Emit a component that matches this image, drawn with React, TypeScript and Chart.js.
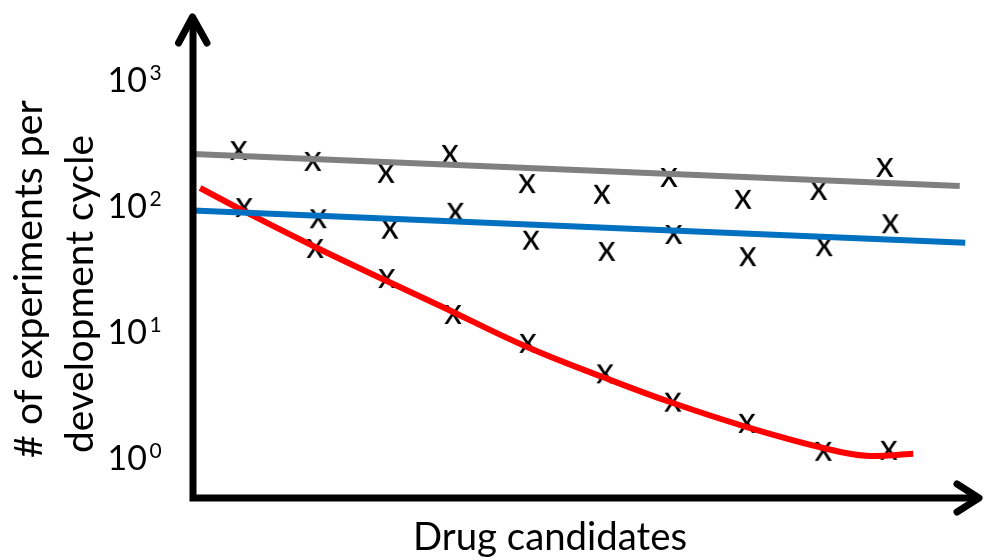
import React, { useEffect, useRef } from 'react';
import { Chart, registerables } from 'chart.js';

Chart.register(...registerables);

// Observed experiments per cycle (scatter "x" marks)
const grayX = [0.58, 1.52, 2.45, 3.26, 4.24, 5.19, 6.04, 6.98, 7.94, 8.78];
const grayY = [278, 228, 183, 259, 152, 125, 170, 114, 134, 204];
const blueX = [0.65, 1.59, 2.5, 3.33, 4.29, 5.25, 6.1, 7.04, 8.01, 8.85];
const blueY = [98, 80, 66, 90, 54, 44, 60, 40, 48, 73];
const redX = [0.65, 1.55, 2.46, 3.3, 4.25, 5.23, 6.09, 7.03, 8.0, 8.83];
const redY = [98, 46.4, 26.8, 13.9, 8.2, 4.7, 2.8, 1.9, 1.14, 1.16];

// Trend lines
const grayFitX = [0, 9.73];
const grayFitY = [259, 144];
const blueFitX = [0, 9.8];
const blueFitY = [92, 51];
const redCurveX = [0.09, 0.66, 1.55, 2.46, 3.14, 4.24, 5.2, 6.09, 7.03, 8.0, 8.55, 9.14];
const redCurveY = [139, 90.1, 47.3, 25.4, 16.1, 7.6, 4.39, 2.73, 1.76, 1.2, 1.04, 1.08];

// Axis ticks and titles
const tickValues = [1, 10, 100, 1000];
const tickExponents = ['0', '1', '2', '3'];
const xTitle = 'Drug candidates';
const yTitleLines = ['# of experiments per', 'development cycle'];

const FONT = 'Lato, "Open Sans", sans-serif';

const pts = (xs: number[], ys: number[]) => xs.map((x, i) => ({ x, y: ys[i] }));

function makeXMarker(): HTMLCanvasElement {
  const c = document.createElement('canvas');
  c.width = 30;
  c.height = 30;
  const g = c.getContext('2d')!;
  g.font = `36px ${FONT}`;
  g.fillStyle = '#000';
  const m = g.measureText('x');
  const w = m.actualBoundingBoxLeft + m.actualBoundingBoxRight;
  const h = m.actualBoundingBoxAscent + m.actualBoundingBoxDescent;
  g.fillText('x', 15 - w / 2 + m.actualBoundingBoxLeft, 15 - h / 2 + m.actualBoundingBoxAscent);
  return c;
}

function fitFont(ctx: CanvasRenderingContext2D, text: string, target: number) {
  ctx.font = `100px ${FONT}`;
  const w = ctx.measureText(text).width;
  const size = (100 * target) / w;
  ctx.font = `${size}px ${FONT}`;
}

const decorPlugin = {
  id: 'decor',
  afterDraw(chart: any) {
    const ctx: CanvasRenderingContext2D = chart.ctx;
    const { left, right, top, bottom } = chart.chartArea;
    const yScale = chart.scales.y;
    ctx.save();
    ctx.fillStyle = '#000';
    ctx.strokeStyle = '#000';

    // Axes
    ctx.lineWidth = 7;
    ctx.lineCap = 'butt';
    ctx.lineJoin = 'miter';
    ctx.beginPath();
    ctx.moveTo(left, top + 2);
    ctx.lineTo(left, bottom);
    ctx.lineTo(right - 3, bottom);
    ctx.stroke();

    ctx.lineCap = 'round';
    ctx.lineJoin = 'round';
    ctx.beginPath();
    ctx.moveTo(left - 14.5, top + 26);
    ctx.lineTo(left - 0.5, top);
    ctx.lineTo(left + 14, top + 26);
    ctx.stroke();
    ctx.beginPath();
    ctx.moveTo(right - 24, bottom - 14);
    ctx.lineTo(right - 2, bottom);
    ctx.lineTo(right - 24, bottom + 14);
    ctx.stroke();

    // Tick labels 10^k
    tickValues.forEach((v, i) => {
      const py = yScale.getPixelForValue(v);
      ctx.font = `34px ${FONT}`;
      ctx.textAlign = 'right';
      ctx.textBaseline = 'alphabetic';
      ctx.fillText('10', 147, py + 12.5);
      ctx.font = `21px ${FONT}`;
      ctx.textAlign = 'left';
      ctx.fillText(tickExponents[i], 149.5, py + 0.5);
    });

    // X title
    fitFont(ctx, xTitle, 274);
    ctx.textAlign = 'center';
    ctx.textBaseline = 'alphabetic';
    ctx.fillText(xTitle, (left + right) / 2 - 37, 550);

    // Y title (rotated)
    const yLines = [
      { text: yTitleLines[0], x: 42, y: 279, w: 358 },
      { text: yTitleLines[1], x: 93, y: 294, w: 318 },
    ];
    yLines.forEach((l) => {
      ctx.save();
      ctx.translate(l.x, l.y);
      ctx.rotate(-Math.PI / 2);
      fitFont(ctx, l.text, l.w);
      ctx.textAlign = 'center';
      ctx.textBaseline = 'alphabetic';
      ctx.fillText(l.text, 0, 0);
      ctx.restore();
    });

    ctx.restore();
  },
};

export default function App() {
  const ref = useRef<HTMLCanvasElement | null>(null);

  useEffect(() => {
    document.body.style.margin = '0';
    const canvas = ref.current;
    if (!canvas) return;
    const marker = makeXMarker();

    const scatter = (xs: number[], ys: number[]) => ({
      type: 'line' as const,
      data: pts(xs, ys),
      showLine: false,
      pointStyle: marker,
      pointRadius: 9,
      pointHoverRadius: 9,
      borderColor: '#000',
      backgroundColor: '#000',
      clip: false,
    });

    const chart = new Chart(canvas, {
      type: 'line',
      data: {
        datasets: [
          {
            data: pts(grayFitX, grayFitY),
            borderColor: '#808080',
            borderWidth: 6,
            pointRadius: 0,
            tension: 0,
          },
          {
            data: pts(blueFitX, blueFitY),
            borderColor: '#0070C0',
            borderWidth: 6,
            pointRadius: 0,
            tension: 0,
          },
          {
            data: pts(redCurveX, redCurveY),
            borderColor: '#FF0000',
            borderWidth: 6,
            pointRadius: 0,
            tension: 0.4,
          },
          scatter(grayX, grayY),
          scatter(blueX, blueY),
          scatter(redX.slice(1), redY.slice(1)),
        ] as any,
      },
      options: {
        responsive: false,
        animation: false,
        devicePixelRatio: 1,
        layout: { autoPadding: false, padding: { left: 193, top: 17, right: 3, bottom: 61 } },
        plugins: { legend: { display: false }, tooltip: { enabled: false } },
        events: [],
        scales: {
          x: { type: 'linear', min: 0, max: 10, display: false },
          y: { type: 'logarithmic', min: 0.4814, max: 3162.3, display: false },
        },
      },
      plugins: [decorPlugin],
    });
    return () => chart.destroy();
  }, []);

  return <canvas ref={ref} width={984} height={559} style={{ display: 'block' }} />;
}
